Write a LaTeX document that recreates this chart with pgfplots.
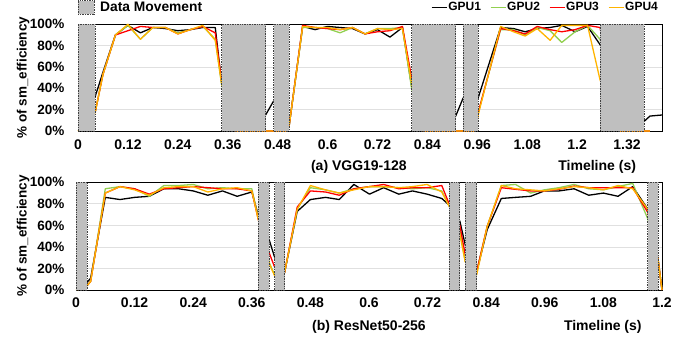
\documentclass[border=0pt]{standalone}
\usepackage{pgfplots}
\pgfplotsset{compat=1.18}
\usepackage{fontspec}
\setmainfont{Liberation Sans}
\definecolor{gA}{RGB}{0,0,0}
\definecolor{gB}{RGB}{146,208,80}
\definecolor{gC}{RGB}{255,0,0}
\definecolor{gD}{RGB}{255,180,0}
\definecolor{bandc}{RGB}{191,191,191}
\pgfplotsset{
  common/.style={
    scale only axis, clip=false,
    axis line style={black,line width=0.8bp},
    major tick length=0pt,
    ymin=0, ymax=100,
    ytick={0,20,40,60,80,100},
    yticklabels={0\%,20\%,40\%,60\%,80\%,100\%},
    ymajorgrids,
    grid style={color=black!12,line width=0.8bp},
    yticklabel style={font=\bfseries\fontsize{13.5bp}{16bp}\selectfont},
    xticklabel style={font=\bfseries\fontsize{14bp}{16bp}\selectfont},
    ylabel={\% of sm\_efficiency},
    ylabel style={font=\bfseries\fontsize{13.5bp}{16bp}\selectfont, anchor=center},
  },
  band/.style={fill=bandc, draw=black!75, densely dotted, line width=0.7bp, forget plot},
}
\begin{document}
\begin{tikzpicture}
\path[use as bounding box] (0bp,0bp) rectangle (685bp,-339bp);
% ---------------- top: VGG19-128
\begin{axis}[common,
  at={(78bp,-131bp)}, anchor=south west,
  width=584bp, height=106.7bp,
  xmin=0, xmax=1.404,
  xtick={0,0.12,0.24,0.36,0.48,0.6,0.72,0.84,0.96,1.08,1.2,1.32},
  xticklabels={0,0.12,0.24,0.36,0.48,0.6,0.72,0.84,0.96,1.08,1.2,1.32},
  xticklabel style={yshift=-5bp},
  yticklabel style={xshift=-10bp},
  ylabel style={at={(axis description cs:-0.094,0.5)}},
  legend columns=4,
  legend style={draw=none, fill=none, at={(axis description cs:0.995,1.159)}, anchor=east,
    font=\bfseries\fontsize{12bp}{14bp}\selectfont, inner sep=0pt,
    nodes={inner xsep=1bp, inner ysep=1bp},
    /tikz/every even column/.append style={column sep=8bp}},
  legend image code/.code={\draw[mark repeat=2,mark phase=2,#1] plot coordinates {(0bp,0bp) (7.5bp,0bp) (15bp,0bp)};},
]
\addplot[color=gA, line width=1.3bp, line join=round] coordinates {
(0.041,32) (0.06,55) (0.09,90) (0.12,99) (0.15,92) (0.18,97) (0.21,96) (0.24,94) (0.27,95) (0.30,97) (0.33,97) (0.345,46)
(0.451,15) (0.47,28)
(0.508,6) (0.54,98) (0.57,95) (0.60,98) (0.63,97) (0.66,96) (0.69,91) (0.72,95) (0.75,88) (0.78,97) (0.802,42)
(0.908,14) (0.926,31)
(0.962,31) (1.016,97) (1.047,96) (1.075,93) (1.104,96) (1.135,97) (1.163,99) (1.195,93) (1.225,98) (1.255,81)
(1.361,9) (1.375,14) (1.404,15)};
\addlegendentry{GPU1}
\addplot[color=gB, line width=1.3bp, line join=round] coordinates {
(0.041,17) (0.06,53) (0.09,90) (0.12,99) (0.15,86) (0.18,97) (0.21,97) (0.24,92) (0.27,95) (0.30,98) (0.33,86) (0.345,44)
(0.38,0) (0.50,0)
(0.508,6) (0.54,97) (0.57,97) (0.60,96) (0.63,92) (0.66,97) (0.69,91) (0.72,96) (0.75,96) (0.78,97) (0.802,40)
(0.83,0) (0.955,0)
(0.962,17) (1.016,95) (1.047,95) (1.075,90) (1.104,97) (1.135,94) (1.163,83) (1.195,93) (1.225,99) (1.255,86)
(1.30,0) (1.375,0)};
\addlegendentry{GPU2}
\addplot[color=gC, line width=1.3bp, line join=round] coordinates {
(0.041,17) (0.06,53) (0.09,90) (0.12,94) (0.15,98) (0.18,97) (0.21,97) (0.24,91) (0.27,95) (0.30,98) (0.33,92) (0.345,47)
(0.38,0) (0.50,0)
(0.508,6) (0.54,99) (0.57,97) (0.60,96) (0.63,95) (0.66,97) (0.69,91) (0.72,93) (0.75,94) (0.78,98) (0.802,50)
(0.83,0) (0.955,0)
(0.962,17) (1.016,96) (1.047,94) (1.075,91) (1.104,98) (1.135,95) (1.163,93) (1.195,95) (1.225,99) (1.255,97)
(1.30,0) (1.375,0)};
\addlegendentry{GPU3}
\addplot[color=gD, line width=1.3bp, line join=round] coordinates {
(0,0) (0.041,17) (0.06,53) (0.09,90) (0.12,100) (0.15,86) (0.18,97) (0.21,97) (0.24,91) (0.27,95) (0.30,99) (0.33,85) (0.345,45)
(0.38,0) (0.50,0)
(0.508,6) (0.54,98) (0.57,97) (0.60,97) (0.63,95) (0.66,97) (0.69,91) (0.72,96) (0.75,95) (0.78,96) (0.802,45)
(0.83,0) (0.955,0)
(0.962,15) (1.016,98) (1.047,93) (1.075,89) (1.104,96) (1.135,85) (1.163,99) (1.195,99) (1.225,99) (1.255,48)
(1.30,0) (1.375,0)};
\addlegendentry{GPU4}
% data movement bands
\addplot[band] coordinates {(0,100) (0.041,100)} \closedcycle;
\addplot[band] coordinates {(0.345,100) (0.451,100)} \closedcycle;
\addplot[band] coordinates {(0.47,100) (0.508,100)} \closedcycle;
\addplot[band] coordinates {(0.802,100) (0.908,100)} \closedcycle;
\addplot[band] coordinates {(0.926,100) (0.962,100)} \closedcycle;
\addplot[band] coordinates {(1.255,100) (1.361,100)} \closedcycle;
\node[font=\bfseries\fontsize{14bp}{16bp}\selectfont, anchor=center, yshift=-36bp] at (axis description cs:0.481,0) {(a) VGG19-128};
\node[font=\bfseries\fontsize{14bp}{16bp}\selectfont, anchor=center, yshift=-36bp] at (axis description cs:0.889,0) {Timeline (s)};
\end{axis}
% legend swatch for data movement
\draw[fill=bandc, draw=black!75, densely dotted, line width=0.7bp] (78bp,-0.6bp) rectangle (94bp,-14bp);
\node[anchor=west, inner sep=0pt, font=\bfseries\fontsize{13.8bp}{16bp}\selectfont] at (100bp,-7bp) {Data Movement};
% ---------------- bottom: ResNet50-256
\begin{axis}[common,
  at={(76bp,-290bp)}, anchor=south west,
  width=586bp, height=107.7bp,
  xmin=0, xmax=1.2,
  xtick={0,0.12,0.24,0.36,0.48,0.6,0.72,0.84,0.96,1.08,1.2},
  xticklabels={0,0.12,0.24,0.36,0.48,0.6,0.72,0.84,0.96,1.08,1.2},
  xticklabel style={yshift=-4.5bp},
  yticklabel style={xshift=-8bp},
  ylabel style={at={(axis description cs:-0.0904,0.5)}},
]
\addplot[color=gA, line width=1.3bp, line join=round] coordinates {
(0.0226,7) (0.03,11) (0.06,86) (0.09,84) (0.12,86) (0.15,87) (0.18,94) (0.21,94) (0.24,92) (0.27,88) (0.30,92) (0.33,87) (0.36,91) (0.373,70)
(0.396,46) (0.407,30)
(0.427,16) (0.453,73) (0.48,84) (0.511,86) (0.539,84) (0.569,98) (0.601,89) (0.63,95) (0.661,89) (0.689,92) (0.719,89) (0.749,85) (0.764,79)
(0.786,64) (0.797,42)
(0.8205,17) (0.842,56) (0.871,85) (0.90,86) (0.931,87) (0.959,92) (0.989,92) (1.02,94) (1.05,88) (1.08,90) (1.11,87) (1.14,96) (1.171,75)
(1.192,28) (1.2,0)};
\addplot[color=gB, line width=1.3bp, line join=round] coordinates {
(0.0226,4) (0.03,8) (0.06,94) (0.09,96) (0.12,94) (0.15,87) (0.18,97) (0.21,97) (0.24,98) (0.27,94) (0.30,95) (0.33,94) (0.36,94) (0.373,68)
(0.396,25) (0.407,14)
(0.427,16) (0.453,75) (0.48,95) (0.511,93) (0.539,90) (0.569,94) (0.601,96) (0.63,96) (0.661,95) (0.689,94) (0.719,95) (0.749,92) (0.764,78)
(0.786,55) (0.797,27)
(0.8205,17) (0.842,59) (0.871,97) (0.90,98) (0.931,90) (0.959,93) (0.989,95) (1.02,98) (1.05,94) (1.08,93) (1.11,96) (1.14,99) (1.171,66)
(1.192,28) (1.2,0)};
\addplot[color=gC, line width=1.3bp, line join=round] coordinates {
(0.0226,4) (0.03,8) (0.06,90) (0.09,96) (0.12,94) (0.15,89) (0.18,94) (0.21,95) (0.24,96) (0.27,95) (0.30,94) (0.33,94) (0.36,92) (0.373,66)
(0.396,34) (0.407,21)
(0.427,16) (0.453,77) (0.48,92) (0.511,91) (0.539,88) (0.569,94) (0.601,96) (0.63,98) (0.661,94) (0.689,95) (0.719,95) (0.749,97) (0.764,80)
(0.786,60) (0.797,33)
(0.8205,17) (0.842,59) (0.871,95) (0.90,93.5) (0.931,92) (0.959,92) (0.989,93.5) (1.02,96.5) (1.05,95) (1.08,95) (1.11,95) (1.14,95) (1.171,72)
(1.192,28) (1.2,0)};
\addplot[color=gD, line width=1.3bp, line join=round] coordinates {
(0,0) (0.0226,4) (0.03,8) (0.06,90) (0.09,96) (0.12,93) (0.15,88) (0.18,95) (0.21,96) (0.24,96) (0.27,91) (0.30,94) (0.33,95) (0.36,92) (0.373,66)
(0.396,24) (0.407,13)
(0.427,16) (0.453,75) (0.48,97) (0.511,93) (0.539,90) (0.569,93) (0.601,96) (0.63,96) (0.661,95) (0.689,96) (0.719,98) (0.749,91) (0.764,78)
(0.786,52) (0.797,26)
(0.8205,14) (0.842,59) (0.871,97) (0.90,94) (0.931,93) (0.959,92) (0.989,94) (1.02,96) (1.05,95) (1.08,93) (1.11,97) (1.14,94) (1.171,75)
(1.192,28) (1.2,0)};
\addplot[band] coordinates {(0,100) (0.0226,100)} \closedcycle;
\addplot[band] coordinates {(0.373,100) (0.396,100)} \closedcycle;
\addplot[band] coordinates {(0.407,100) (0.427,100)} \closedcycle;
\addplot[band] coordinates {(0.764,100) (0.786,100)} \closedcycle;
\addplot[band] coordinates {(0.797,100) (0.8205,100)} \closedcycle;
\addplot[band] coordinates {(1.171,100) (1.192,100)} \closedcycle;
\node[font=\bfseries\fontsize{14bp}{16bp}\selectfont, anchor=center, yshift=-37bp] at (axis description cs:0.5,0) {(b) ResNet50-256};
\node[font=\bfseries\fontsize{14bp}{16bp}\selectfont, anchor=center, yshift=-37bp] at (axis description cs:0.899,0) {Timeline (s)};
\end{axis}
\end{tikzpicture}
\end{document}
